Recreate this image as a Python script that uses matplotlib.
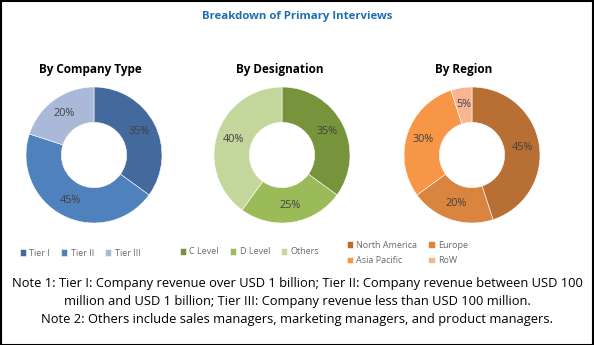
import matplotlib.pyplot as plt
from matplotlib.patches import Rectangle

# data
company_labels = ["Tier I", "Tier II", "Tier III"]
company_values = [35, 45, 20]
company_colors = ["#44699c", "#4f81bd", "#a9b9d7"]

designation_labels = ["C Level", "D Level", "Others"]
designation_values = [35, 25, 40]
designation_colors = ["#77933c", "#9bbb59", "#c3d69b"]

region_labels = ["North America", "Europe", "Asia Pacific", "RoW"]
region_values = [45, 20, 30, 5]
region_colors = ["#b86f34", "#d9853f", "#f79646", "#f9b592"]

subtitles = ["By Company Type", "By Designation", "By Region"]

W, H = 594, 345
fig = plt.figure(figsize=(W / 100, H / 100), dpi=100)
fig.patch.set_facecolor("white")
plt.rcParams['font.family'] = ['Open Sans', 'DejaVu Sans']

# border
fig.add_artist(Rectangle((0.5 / W, 0.5 / H), 1 - 1.5 / W, 1 - 1.5 / H, transform=fig.transFigure,
                         fill=False, edgecolor="black", linewidth=1.5))

fig.text(0.5, 1 - 17 / H, "Breakdown of Primary Interviews", ha="center", va="center",
         fontsize=8.2, fontweight="bold", color="#1f6db5")

# donut centres in pixels (x, y from top)
centers = [(94, 155), (282, 155), (472, 155)]
radius = 68
subtitle_x = [90, 280, 464]

def donut(cx, cy, values, colors):
    ax = fig.add_axes([(cx - radius) / W, 1 - (cy + radius) / H, 2 * radius / W, 2 * radius / H])
    wedges, _, autotexts = ax.pie(values, colors=colors, startangle=90, counterclock=False,
                                  wedgeprops=dict(width=0.52, edgecolor="white", linewidth=0.4),
                                  autopct=lambda p: "%d%%" % round(p), pctdistance=0.75,
                                  textprops=dict(fontsize=7.8, color="#404040"))
    ax.set_xlim(-1, 1)
    ax.set_ylim(-1, 1)
    ax.set_aspect("equal")
    return wedges

w1 = donut(*centers[0], company_values, company_colors)
w2 = donut(*centers[1], designation_values, designation_colors)
w3 = donut(*centers[2], region_values, region_colors)

for x, t in zip(subtitle_x, subtitles):
    fig.text(x / W, 1 - 70 / H, t, ha="center", va="center", fontsize=8.5, fontweight="bold", color="black")

leg_kw = dict(frameon=False, fontsize=6.5, handlelength=0.7, handleheight=0.7, handletextpad=0.4,
              borderpad=0, labelcolor="#6a6a6a")
fig.legend(w1, company_labels, loc="center left", bbox_to_anchor=(15 / W, 1 - 253 / H), ncol=3,
           columnspacing=1.2, **leg_kw)
fig.legend(w2, designation_labels, loc="center left", bbox_to_anchor=(175 / W, 1 - 252 / H), ncol=3,
           columnspacing=1.2, **leg_kw)
# legend fills column-wise, so reorder to get rows: NA, Europe / Asia Pacific, RoW
order = [0, 2, 1, 3]
fig.legend([w3[i] for i in order], [region_labels[i] for i in order], loc="center left",
           bbox_to_anchor=(342 / W, 1 - 253 / H), ncol=2, columnspacing=1.2, labelspacing=0.75, **leg_kw)

notes = ["Note 1: Tier I: Company revenue over USD 1 billion; Tier II: Company revenue between USD 100",
         "million and USD 1 billion; Tier III: Company revenue less than USD 100 million.",
         "Note 2: Others include sales managers, marketing managers, and product managers."]
for i, line in enumerate(notes):
    fig.text(0.5, 1 - (283 + 18 * i) / H, line, ha="center", va="center", fontsize=9.3, color="black")

fig.savefig("out.png", dpi=100)
